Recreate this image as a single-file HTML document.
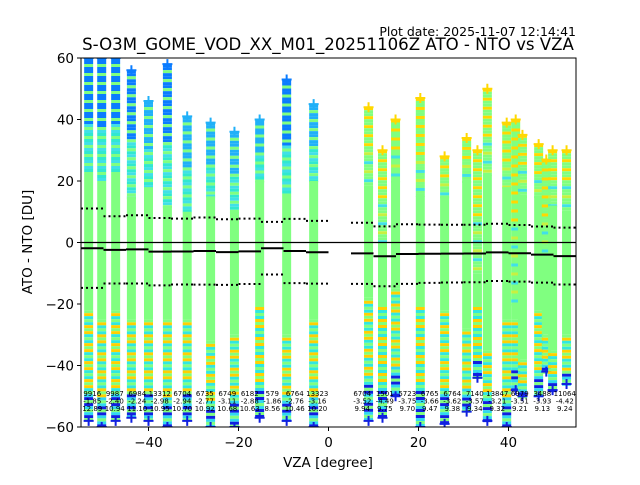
<!DOCTYPE html>
<html><head><meta charset="utf-8"><style>
body{margin:0;background:#fff;width:640px;height:480px;overflow:hidden}
svg{font-family:"DejaVu Sans","Liberation Sans",sans-serif}
</style></head><body>
<svg id="chart" width="640" height="480">
<text x="576" y="36" text-anchor="end" font-size="12.5">Plot date: 2025-11-07 12:14:41</text>
<text x="328" y="50" text-anchor="middle" font-size="16.6">S-O3M_GOME_VOD_XX_M01_20251106Z ATO - NTO vs VZA</text>
<g id="marks"></g>
<rect x="81" y="58" width="495" height="369" fill="none" stroke="#000" stroke-width="1"/>
<g id="axes"></g>
<text x="328" y="467" text-anchor="middle" font-size="13.5">VZA [degree]</text>
<text x="32" y="242" text-anchor="middle" font-size="13.5" transform="rotate(-90 32 242)">ATO - NTO [DU]</text>
</svg>
<script>
const colVza=[-53.3,-50.4,-47.3,-43.8,-40,-35.8,-31.4,-26.2,-20.9,-15.3,-9.3,-3.3,8.9,12,14.9,20.4,25.8,30.7,33.1,35.3,39.6,41.6,43.1,46.7,48.4,49.8,52.9];
const colTop=[60,60,60,56,46,58,41,39,36,40,53,45,44,30,40,47,28,34,30,50,39,40,35,32,27,30,30];
const colGreenTop=[22,20,22,15,18,12,10,15,10,20,15,20,18,0,20,15,15,20,-10,22,18,-20,15,15,-5,12,10];
const colGreenBot=[-22,-25,-22,-25,-25,-25,-25,-32,-30,-20,-30,-25,-18,-20,-15,-20,-22,-28,-20,-35,-25,-25,-38,-22,-30,-35,-30];
const colBot=[-58,-60,-58,-57,-58,-60,-58,-60,-60,-57,-58,-60,-58,-57,-50,-60,-59,-55,-44,-58,-60,-48,-50,-50,-42,-48,-46];
const binLo=[-55,-50,-45,-40,-35,-30,-25,-20,-15,-10,-5,5,10,15,20,25,30,35,40,45,50];
const binCount=["9916","9987","6984","13312","6704","6735","6749","6182","579","6764","13323","6704","1501","5723","6765","6764","7140","13847","6979","3488","11064"];
const binMean=[-1.85,-2.40,-2.24,-2.98,-2.94,-2.77,-3.11,-2.88,-1.86,-2.76,-3.16,-3.52,-4.49,-3.75,-3.66,-3.62,-3.57,-3.21,-3.51,-3.93,-4.42];
const binStd=[12.89,10.94,11.10,10.95,10.70,10.92,10.68,10.63,8.56,10.46,10.20,9.94,9.75,9.70,9.47,9.38,9.34,9.32,9.21,9.13,9.24];
const xTicks=[-40,-20,0,20,40];
const yTicks=[-60,-40,-20,0,20,40,60];

const NS="http://www.w3.org/2000/svg";
const X=v=>81+(v+55)*495/110;
const Y=v=>58+(60-v)*369/120;
const marks=document.getElementById('marks'), axes=document.getElementById('axes');
function mk(tag,attrs,parent){const e=document.createElementNS(NS,tag);for(const k in attrs)e.setAttribute(k,attrs[k]);parent.appendChild(e);return e;}
function cross(x,y,c,g){mk('path',{d:`M${x-5},${y}h10M${x},${y-5}v10`,stroke:c,'stroke-width':2},g);}
const clip=mk('clipPath',{id:'pc'},mk('defs',{},marks));mk('rect',{x:81,y:58,width:495,height:369},clip);
const body=mk('g',{'clip-path':'url(#pc)'},marks);
const GREEN='#80ff80';
colVza.forEach((v,i)=>{
  const g=mk('g',{},body);
  
  
  const x=X(v), left=v<0;
  const topC=left&&colTop[i]>50?'#0a7cff':(left?'#20b0f8':'#ffd800');
  const midC=left?'#30e8d0':'#c8f040';
  const yT=Y(colTop[i]), yG=Y(colGreenTop[i]);
  for(let y=yT,k=0;y<yG;y+=3,k++){
    const frac=(y-yT)/(yG-yT+1);
    let c=k%3===2?GREEN:(frac<0.55?topC:(k%2?midC:'#40e0e8'));
    if(!left&&k%3===1)c=GREEN;
    mk('rect',{x:x-4.5,y:y,width:9,height:3,fill:c},g);
  }
  mk('rect',{x:x-4.5,y:yG,width:9,height:Y(colGreenBot[i])-yG,fill:GREEN},g);
  const yB=Y(colGreenBot[i]), yE=Y(colBot[i]);
  for(let y=yB,k=0;y<yE;y+=3,k++){
    const frac=(y-yB)/(yE-yB+1);
    let c;
    if(k%3===0)c=GREEN;
    else if(frac>0.7)c=k%2?'#1020e0':'#30d8f0';
    else c=k%2?'#ffd000':'#30e8e0';
    mk('rect',{x:x-4.5,y:y,width:9,height:3,fill:c},g);
  }
  cross(x,yT,topC,g);
  cross(x,yE,'#1020e0',g);
});
const zl=mk('line',{x1:81,x2:576,y1:Y(0),y2:Y(0),stroke:'#000','stroke-width':1.3},marks);


binLo.forEach((b,i)=>{
  const x1=X(b),x2=X(b+5),m=binMean[i],s=binStd[i];
  const ml=mk('line',{x1,x2,y1:Y(m),y2:Y(m),stroke:'#000','stroke-width':2},marks);
  
  
  [m+s,m-s].forEach((q,j)=>{
    const dl=mk('line',{x1,x2,y1:Y(q),y2:Y(q),stroke:'#000','stroke-width':2,'stroke-dasharray':'2,3'},marks);
    
    
  });
  const cx=(x1+x2)/2;
  [binCount[i],binMean[i].toFixed(2),binStd[i].toFixed(2)].forEach((t,k)=>{
    const tx=mk('text',{x:cx,y:396+k*7.5,'text-anchor':'middle','font-size':7,fill:'#000'},marks);
    tx.textContent=t;
    
    
  });
});
xTicks.forEach(t=>{
  mk('line',{x1:X(t),x2:X(t),y1:427,y2:431,stroke:'#000'},axes);
  const tx=mk('text',{x:X(t),y:447,'text-anchor':'middle','font-size':13.5},axes);
  tx.textContent=t<0?'\u2212'+(-t):t;
  
  
});
yTicks.forEach(t=>{
  mk('line',{x1:77,x2:81,y1:Y(t),y2:Y(t),stroke:'#000'},axes);
  const tx=mk('text',{x:74,y:Y(t)+5,'text-anchor':'end','font-size':13.5},axes);
  tx.textContent=t<0?'\u2212'+(-t):t;
  
  
});
</script>
</body></html>
